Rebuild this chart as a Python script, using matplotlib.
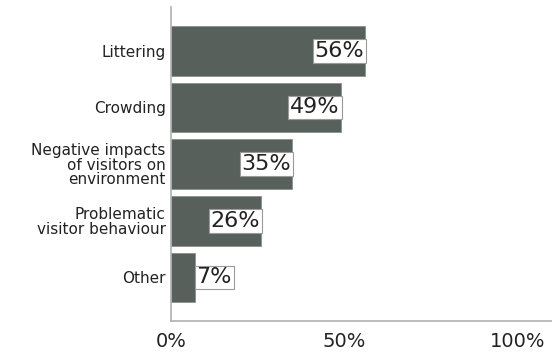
import numpy as np
from matplotlib import pyplot as plt

categorias = ['Littering', 'Crowding', 'Negative impacts\nof visitors on\nenvironment',
              'Problematic\nvisitor behaviour', 'Other']
valores = [56, 49, 35, 26, 7]
ticks = [0, 50, 100]
tick_labels = ['0%', '50%', '100%']

fig = plt.figure(figsize=(5.52, 3.58), dpi=100)
ax = fig.add_axes([0.31, 0.103, 0.69, 0.877])

y = np.arange(len(categorias))
ax.barh(y, valores, height=0.88, color='#57605a', edgecolor='#8a918c', linewidth=0.6)

for yi, v in zip(y, valores):
    caja = dict(boxstyle='square,pad=0.08', facecolor='white', edgecolor='#9a9a9a', linewidth=0.8)
    if v > 15:
        ax.text(v - 0.3, yi, '%d%%' % v, ha='right', va='center', fontsize=16,
                color='#222222', bbox=caja)
    else:
        ax.text(v + 0.3, yi, '%d%%' % v, ha='left', va='center', fontsize=16,
                color='#222222', bbox=caja)

ax.set_ylim(4.77, -0.77)
ax.set_xlim(0, 110)
ax.set_yticks(y)
ax.set_yticklabels(categorias, fontsize=11, linespacing=0.95, color='#222222')
ax.set_xticks(ticks)
ax.set_xticklabels(tick_labels, fontsize=14, color='#222222')
ax.tick_params(length=0, pad=4)
ax.tick_params(axis='x', pad=8)

for s in ['top', 'right']:
    ax.spines[s].set_visible(False)
for s in ['left', 'bottom']:
    ax.spines[s].set_color('#b0b0b0')
    ax.spines[s].set_linewidth(1.2)

plt.savefig('out.png')
